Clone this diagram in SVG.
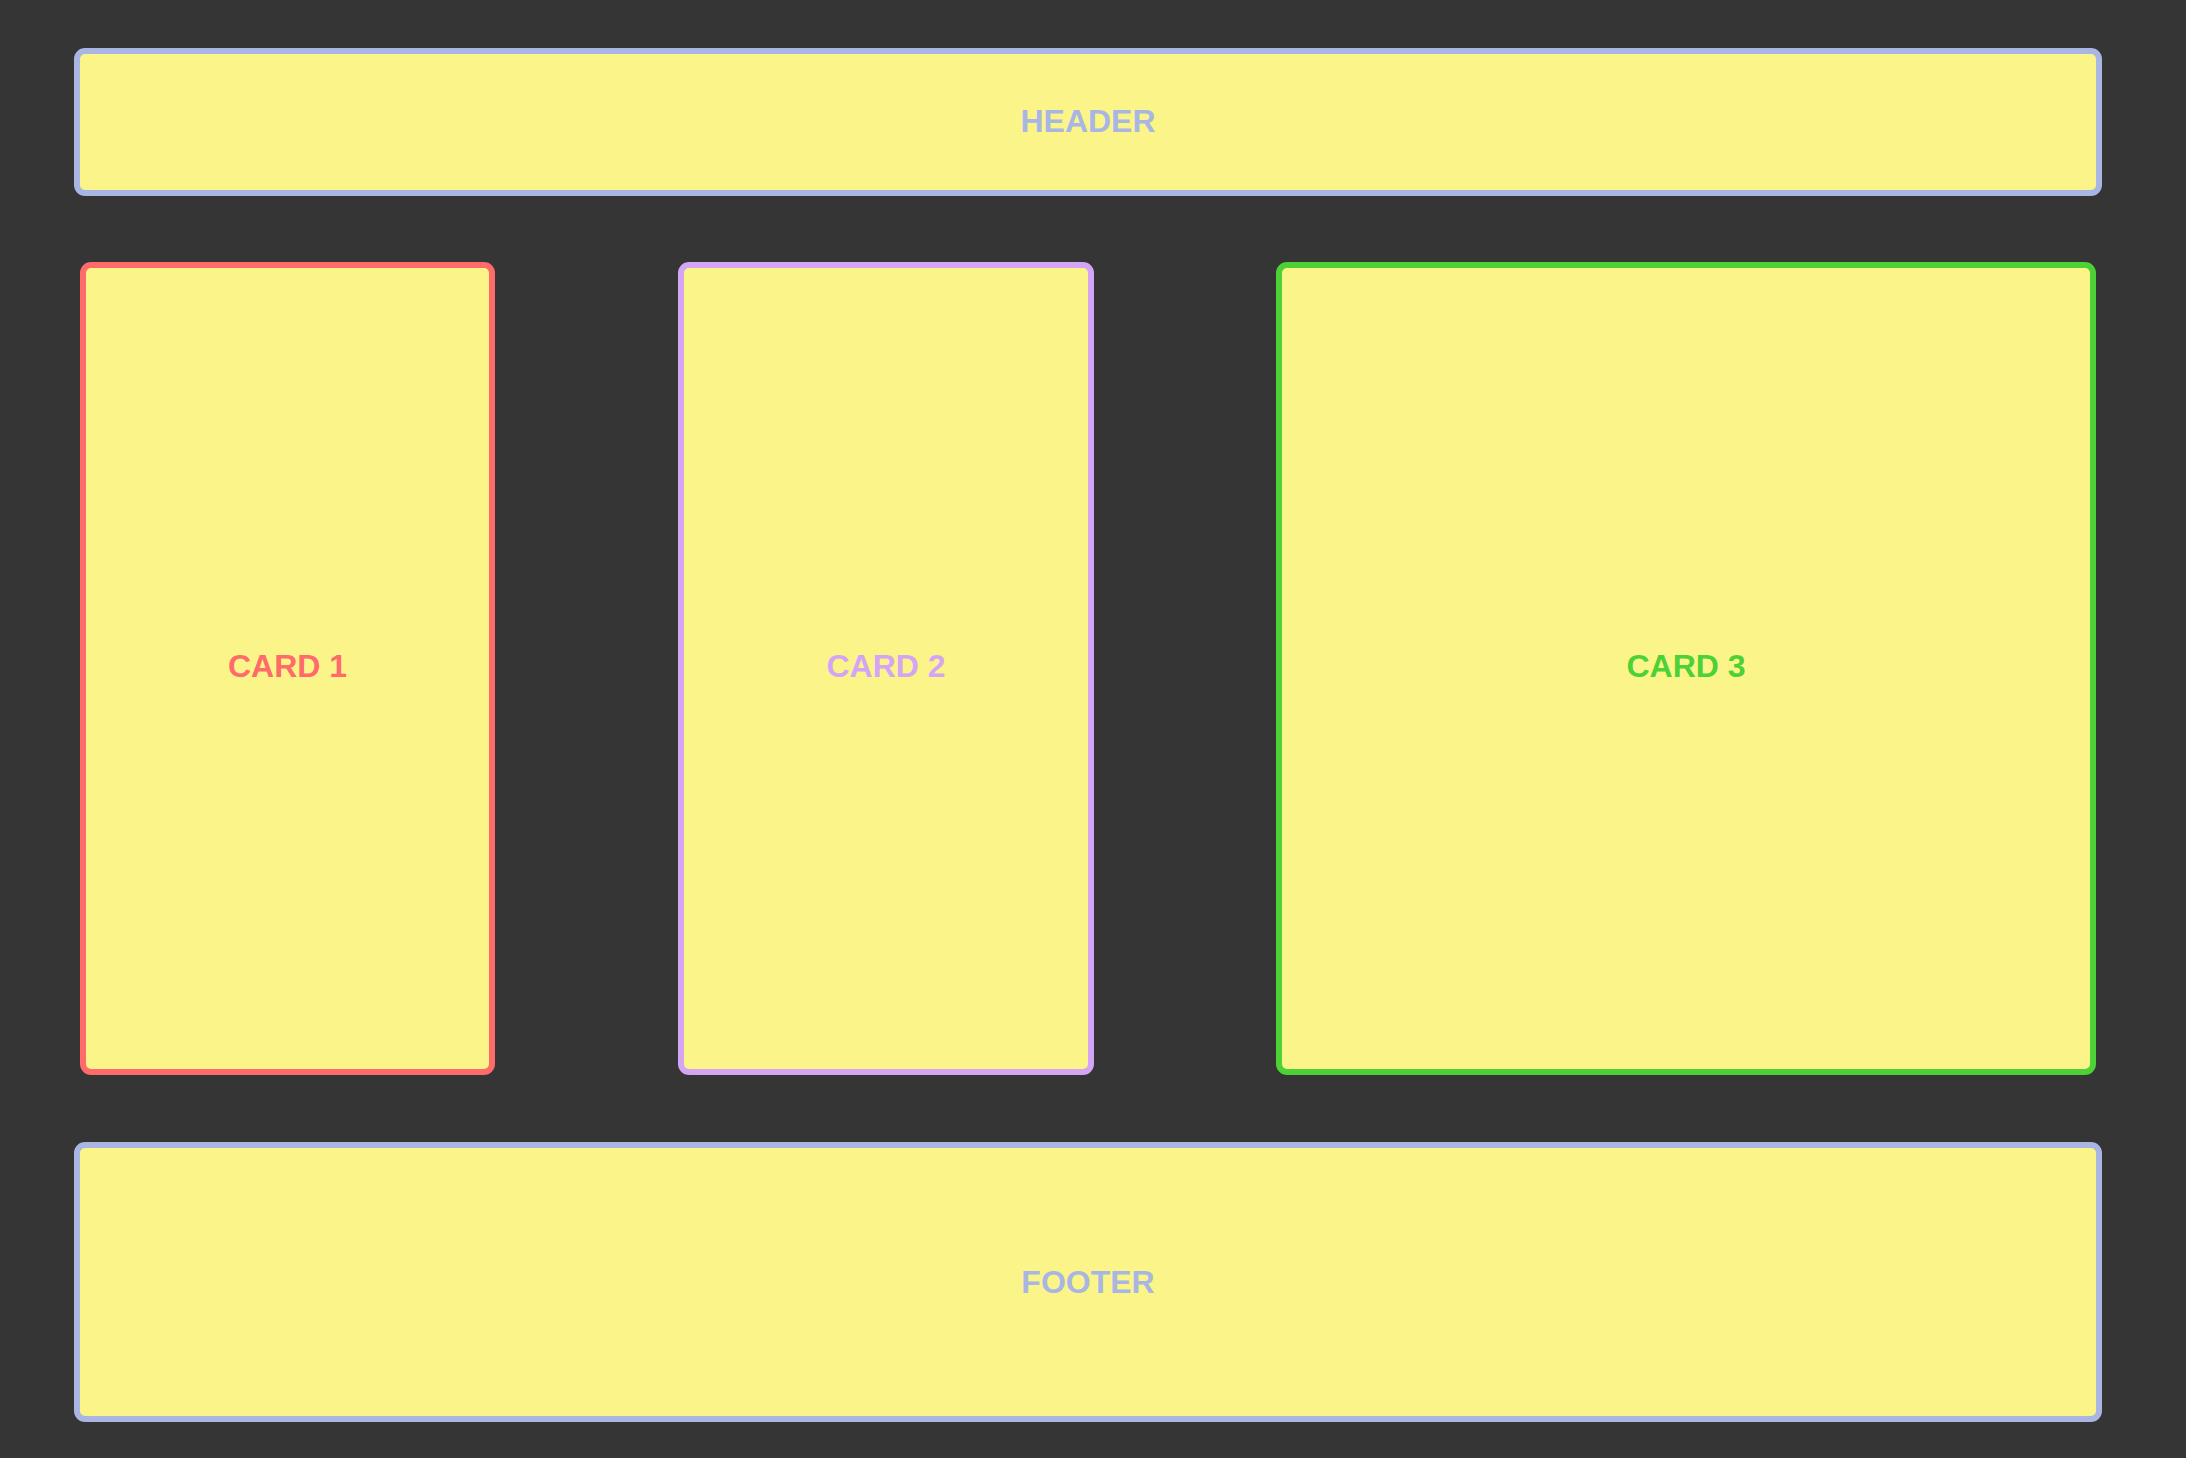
<svg xmlns="http://www.w3.org/2000/svg" width="2186" height="1458" viewBox="0 0 2186 1458">
<style>
.box{fill:#fbf589;stroke-width:6}
.lbl{font-family:"Liberation Sans",Arial,sans-serif;font-weight:bold;font-size:32px;text-anchor:middle}
</style>
<rect x="0" y="0" width="2186" height="1458" fill="#353535"/>
<g id="header">
<rect class="box" x="77" y="51" width="2022" height="142" rx="8" stroke="#a9b6e3"/>
<text class="lbl" x="1088" y="131.5" fill="#a9b6e3">HEADER</text>
</g>
<g id="card1">
<rect class="box" x="83" y="265" width="409" height="807" rx="8" stroke="#ff6b6b"/>
<text class="lbl" x="287.5" y="677" fill="#ff6b6b">CARD 1</text>
</g>
<g id="card2">
<rect class="box" x="681" y="265" width="410" height="807" rx="8" stroke="#d4a5f5"/>
<text class="lbl" x="886" y="677" fill="#d4a5f5">CARD 2</text>
</g>
<g id="card3">
<rect class="box" x="1279" y="265" width="814" height="807" rx="8" stroke="#4cd137"/>
<text class="lbl" x="1686" y="677" fill="#4cd137">CARD 3</text>
</g>
<g id="footer">
<rect class="box" x="77" y="1145" width="2022" height="274" rx="8" stroke="#a9b6e3"/>
<text class="lbl" x="1088" y="1292.5" fill="#a9b6e3">FOOTER</text>
</g>
<g id="connectors"/>
</svg>
